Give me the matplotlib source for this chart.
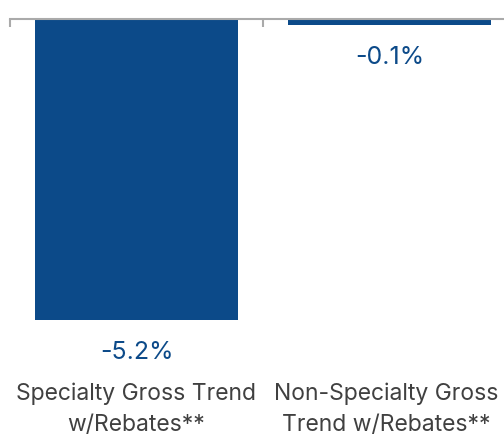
import matplotlib
matplotlib.use("Agg")
import matplotlib.pyplot as plt
from matplotlib.transforms import blended_transform_factory

plt.rcParams['font.family'] = ['Inter', 'DejaVu Sans']

categories = ["Specialty Gross Trend\nw/Rebates**", "Non-Specialty Gross\nTrend w/Rebates**"]
values = [-5.2, -0.1]
value_labels = ["-5.2%", "-0.1%"]

bar_color = "#0c4a89"
text_color = "#404040"

W, H = 504, 435
fig = plt.figure(figsize=(W / 100, H / 100), dpi=100)
# axes spans beyond right edge, as in the cropped original
ax = fig.add_axes([10 / W, 1 - 321 / H, 506 / W, 301 / H])

x = range(len(categories))
ax.bar(x, values, width=0.8, color=bar_color, zorder=2)
ax.set_xlim(-0.5, 1.5)
ax.set_ylim(-5.2, 0)

for s in ["left", "right", "bottom"]:
    ax.spines[s].set_visible(False)
ax.spines["top"].set_color("#aaaaaa")
ax.spines["top"].set_linewidth(1.5)
ax.xaxis.tick_top()
ax.set_xticks([-0.5, 0.5, 1.5])
ax.tick_params(axis="x", direction="in", length=6, width=1.5, color="#aaaaaa",
               labeltop=False, labelbottom=False)
ax.set_yticks([])

for i, (v, lab) in enumerate(zip(values, value_labels)):
    ax.annotate(lab, (i, v), xytext=(0, -23), textcoords="offset points",
                ha="center", va="center", fontsize=18, color=bar_color)

trans = blended_transform_factory(ax.transData, fig.transFigure)
for i, cat in enumerate(categories):
    ax.text(i - 0.012 * i, 1 - 409 / H, cat, transform=trans, ha="center", va="center",
            fontsize=16.5, color=text_color, linespacing=1.55)

fig.savefig("out.png", dpi=100)
